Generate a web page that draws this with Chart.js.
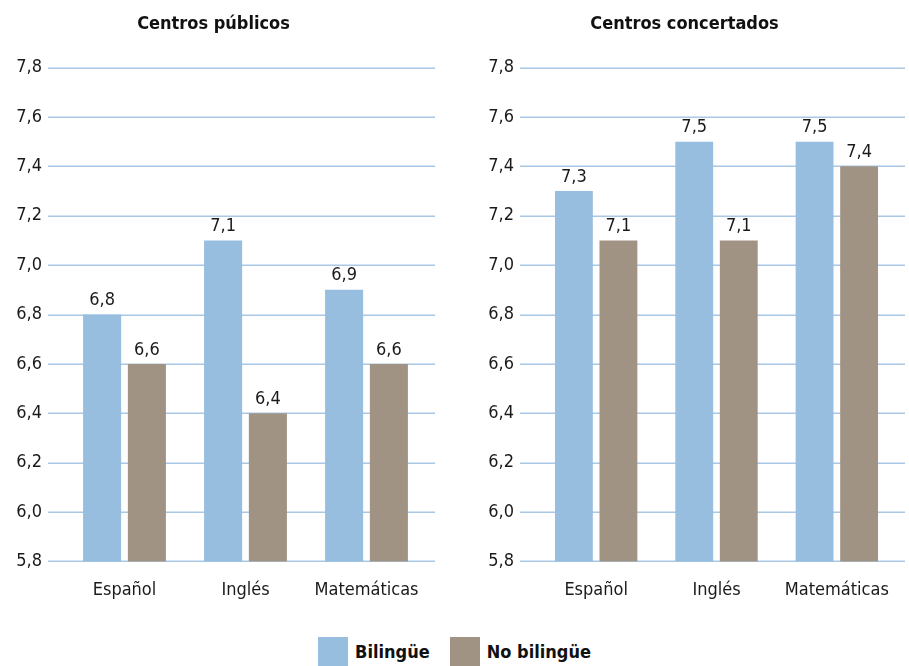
<!DOCTYPE html>
<html><head><meta charset="utf-8">
<script src="https://cdn.jsdelivr.net/npm/chart.js@4/dist/chart.umd.min.js"></script>
<style>
html,body{margin:0;padding:0;background:#fff;width:909px;height:666px;overflow:hidden;font-family:"DejaVu Sans Condensed","Liberation Sans Narrow",sans-serif;}
#c1wrap{position:absolute;left:0;top:0;width:445px;height:611px;}
#c2wrap{position:absolute;left:472px;top:0;width:437px;height:611px;}
#legend{position:absolute;left:0;top:637px;width:909px;height:29px;display:flex;justify-content:center;align-items:center;}
.item{display:flex;align-items:center;margin:0 10px;}
.sw{width:30px;height:29px;margin-right:7px;}
.lbl{font-weight:bold;font-size:18px;color:#111;}
</style></head>
<body>
<div id="c1wrap"><canvas id="c1"></canvas></div>
<div id="c2wrap"><canvas id="c2"></canvas></div>
<div id="legend"></div>
<script>
const categories = ["Español", "Inglés", "Matemáticas"];
const seriesNames = ["Bilingüe", "No bilingüe"];
const seriesColors = ["#97bddf", "#a09383"];
const publicBilingue = [6.8, 7.1, 6.9];
const publicNoBilingue = [6.6, 6.4, 6.6];
const concertBilingue = [7.3, 7.5, 7.5];
const concertNoBilingue = [7.1, 7.1, 7.4];
const yMin = 5.8, yMax = 7.8, yStep = 0.2;
const titles = ["Centros públicos", "Centros concertados"];

const FONT = '"DejaVu Sans Condensed","Liberation Sans Narrow",sans-serif';
const fmt = v => Number(v).toFixed(1).replace('.', ',');

const valueLabels = {
  id: 'valueLabels',
  afterDatasetsDraw(chart) {
    const ctx = chart.ctx;
    ctx.save();
    ctx.font = '18px ' + FONT;
    ctx.fillStyle = '#1a1a1a';
    ctx.textAlign = 'center';
    ctx.textBaseline = 'bottom';
    chart.data.datasets.forEach((ds, i) => {
      const meta = chart.getDatasetMeta(i);
      meta.data.forEach((el, j) => {
        ctx.fillText(fmt(ds.data[j]), el.x, el.y - 5);
      });
    });
    ctx.restore();
  }
};

const wideGrid = {
  id: 'wideGrid',
  beforeDatasetsDraw(chart, args, opts) {
    const ctx = chart.ctx, y = chart.scales.y, a = chart.chartArea;
    ctx.save();
    ctx.strokeStyle = '#a8c8e5';
    ctx.lineWidth = 1.5;
    y.ticks.forEach(t => {
      const py = Math.round(y.getPixelForValue(t.value)) + 0.25;
      ctx.beginPath();
      ctx.moveTo(a.left - opts.extL, py);
      ctx.lineTo(a.right + opts.extR, py);
      ctx.stroke();
    });
    ctx.restore();
  }
};

function makeChart(id, title, d1, d2, padRight) {
  return new Chart(document.getElementById(id), {
    type: 'bar',
    data: {
      labels: categories,
      datasets: [
        {label: seriesNames[0], data: d1, backgroundColor: seriesColors[0], categoryPercentage: 0.74, barPercentage: 0.85},
        {label: seriesNames[1], data: d2, backgroundColor: seriesColors[1], categoryPercentage: 0.74, barPercentage: 0.85}
      ]
    },
    options: {
      responsive: true,
      maintainAspectRatio: false,
      animation: false,
      layout: {padding: {left: 0, right: padRight, top: 0, bottom: 0}},
      plugins: {
        legend: {display: false},
        tooltip: {enabled: false},
        title: {display: true, text: title, color: '#111', font: {family: FONT, size: 18, weight: 'bold'}, padding: {top: 14, bottom: 32}},
        wideGrid: {extL: 16, extR: 8}
      },
      scales: {
        x: {
          grid: {display: false},
          border: {display: false},
          ticks: {color: '#1a1a1a', font: {family: FONT, size: 18}, padding: 10}
        },
        y: {
          min: yMin, max: yMax,
          afterFit(s) { s.width = 64; },
          grid: {display: false, drawTicks: false},
          border: {display: false},
          ticks: {stepSize: yStep, color: '#1a1a1a', font: {family: FONT, size: 18}, padding: 22, callback: v => fmt(v)}
        }
      }
    },
    plugins: [wideGrid, valueLabels]
  });
}

makeChart('c1', titles[0], publicBilingue, publicNoBilingue, 18);
makeChart('c2', titles[1], concertBilingue, concertNoBilingue, 12);

const lg = document.getElementById('legend');
seriesNames.forEach((n, i) => {
  const it = document.createElement('div'); it.className = 'item';
  const sw = document.createElement('div'); sw.className = 'sw'; sw.style.background = seriesColors[i];
  const lb = document.createElement('span'); lb.className = 'lbl'; lb.textContent = n;
  it.appendChild(sw); it.appendChild(lb); lg.appendChild(it);
});
</script>
</body></html>
